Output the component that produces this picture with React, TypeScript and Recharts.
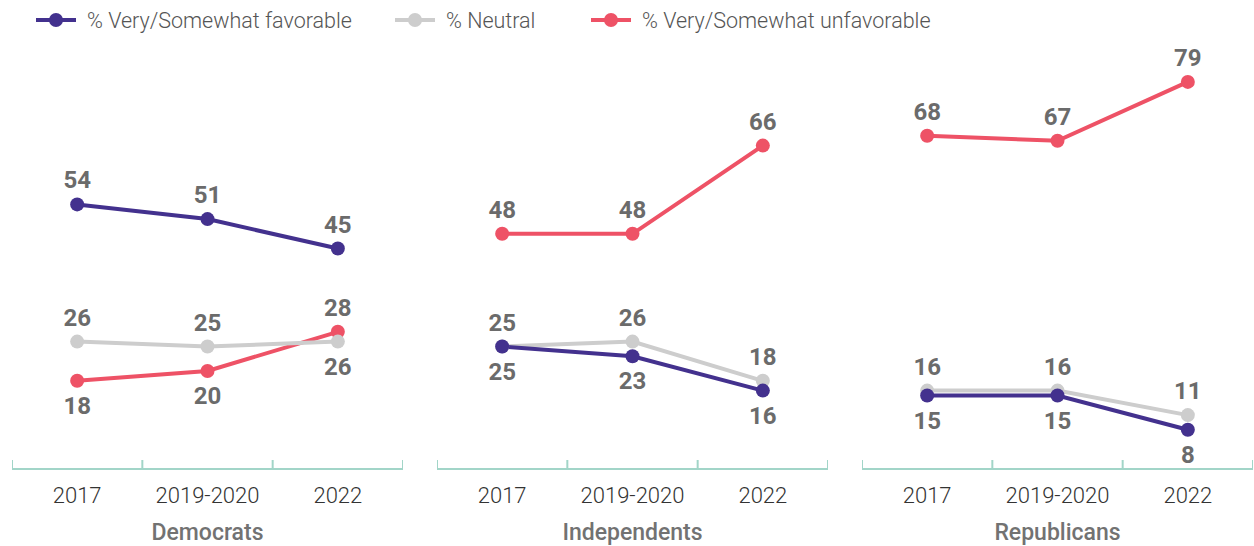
import { LineChart, Line, XAxis, YAxis, LabelList } from 'recharts'

const categories = ['2017', '2019-2020', '2022']
const panelTitles = ['Democrats', 'Independents', 'Republicans']

// values per panel: Democrats, Independents, Republicans
const favorable = [
  [54, 51, 45],
  [25, 23, 16],
  [15, 15, 8],
]
const neutral = [
  [26, 25, 26],
  [25, 26, 18],
  [16, 16, 11],
]
const unfavorable = [
  [18, 20, 28],
  [48, 48, 66],
  [68, 67, 79],
]

// label placement (style only), same shape as the values
const favPlace = [
  ['up', 'up', 'up'],
  ['down', 'down', 'down'],
  ['down', 'down', 'down'],
]
const neutralPlace = [
  ['up', 'up', 'down'],
  ['up', 'up', 'up'],
  ['up', 'up', 'up'],
]
const unfavPlace = [
  ['down', 'down', 'up'],
  ['up', 'up', 'up'],
  ['up', 'up', 'up'],
]

const PURPLE = '#43318e'
const GRAY = '#cdcdcd'
const RED = '#ee5266'
const AXIS = '#a2d5c8'
const FONT = 'Roboto, "Noto Sans", sans-serif'

const PANEL_W = 391
const BAND = PANEL_W / categories.length

const AxisTick = ({ x, y, payload, index }: any) => {
  const half = BAND / 2
  return (
    <g>
      <line x1={x - half} x2={x - half} y1={y} y2={y - 9} stroke={AXIS} strokeWidth={2} />
      {index === categories.length - 1 && (
        <line x1={x + half} x2={x + half} y1={y} y2={y - 9} stroke={AXIS} strokeWidth={2} />
      )}
      <text
        x={x}
        y={y + 26}
        textAnchor="middle"
        dominantBaseline="central"
        fontFamily={FONT}
        fontWeight={300}
        fontSize={22}
        fill="#333"
      >
        {payload.value}
      </text>
    </g>
  )
}

const makeLabel = (place: string[]) => (props: any) => {
  const { x, y, value, index } = props
  const dy = place[index] === 'up' ? -24 : 25
  return (
    <text
      x={x}
      y={y + dy}
      textAnchor="middle"
      dominantBaseline="central"
      fontFamily={FONT}
      fontWeight={700}
      fontSize={24}
      fill="#6b6b6b"
    >
      {value}
    </text>
  )
}

function Panel({ p }: { p: number }) {
  const rows = categories.map((cat, i) => ({
    cat,
    fav: favorable[p][i],
    neu: neutral[p][i],
    unf: unfavorable[p][i],
  }))

  return (
    <LineChart width={PANEL_W} height={546} data={rows} margin={{ top: 77, right: 0, left: 0, bottom: 0 }}>
      <XAxis
        dataKey="cat"
        padding={{ left: BAND / 2, right: BAND / 2 }}
        height={77}
        tickSize={0}
        tickMargin={0}
        interval={0}
        axisLine={{ stroke: AXIS, strokeWidth: 2 }}
        tickLine={false}
        tick={<AxisTick />}
        label={{
          value: panelTitles[p],
          position: 'insideBottom',
          offset: 6,
          fill: '#727272',
          fontSize: 23,
          fontWeight: 500,
          fontFamily: FONT,
        }}
      />
      <YAxis hide domain={[0, 80]} />
      <Line
        dataKey="unf"
        stroke={RED}
        strokeWidth={4}
        dot={{ r: 7, fill: RED, stroke: RED, strokeWidth: 0 }}
        activeDot={false}
        isAnimationActive={false}
      >
        <LabelList dataKey="unf" content={makeLabel(unfavPlace[p])} />
      </Line>
      <Line
        dataKey="neu"
        stroke={GRAY}
        strokeWidth={4}
        dot={{ r: 7, fill: GRAY, stroke: GRAY, strokeWidth: 0 }}
        activeDot={false}
        isAnimationActive={false}
      >
        <LabelList dataKey="neu" content={makeLabel(neutralPlace[p])} />
      </Line>
      <Line
        dataKey="fav"
        stroke={PURPLE}
        strokeWidth={4}
        dot={{ r: 7, fill: PURPLE, stroke: PURPLE, strokeWidth: 0 }}
        activeDot={false}
        isAnimationActive={false}
      >
        <LabelList dataKey="fav" content={makeLabel(favPlace[p])} />
      </Line>
    </LineChart>
  )
}

const legendItems = [
  { label: '% Very/Somewhat favorable', color: PURPLE, x: 36 },
  { label: '% Neutral', color: GRAY, x: 395 },
  { label: '% Very/Somewhat unfavorable', color: RED, x: 591 },
]

export default function App() {
  return (
    <div style={{ position: 'absolute', left: 0, top: 0, width: 1254, height: 546, background: '#fff' }}>
      <svg width={1254} height={40} style={{ position: 'absolute', left: 0, top: 0 }}>
        {legendItems.map((it) => (
          <g key={it.label}>
            <line x1={it.x} x2={it.x + 40} y1={20} y2={20} stroke={it.color} strokeWidth={4} />
            <circle cx={it.x + 20} cy={20} r={7} fill={it.color} />
            <text
              x={it.x + 51}
              y={20}
              dominantBaseline="central"
              fontFamily={FONT}
              fontWeight={300}
              fontSize={21.5}
              fill="#555"
            >
              {it.label}
            </text>
          </g>
        ))}
      </svg>
      {[0, 1, 2].map((p) => (
        <div key={p} style={{ position: 'absolute', left: 12 + p * 425, top: 0 }}>
          <Panel p={p} />
        </div>
      ))}
    </div>
  )
}
